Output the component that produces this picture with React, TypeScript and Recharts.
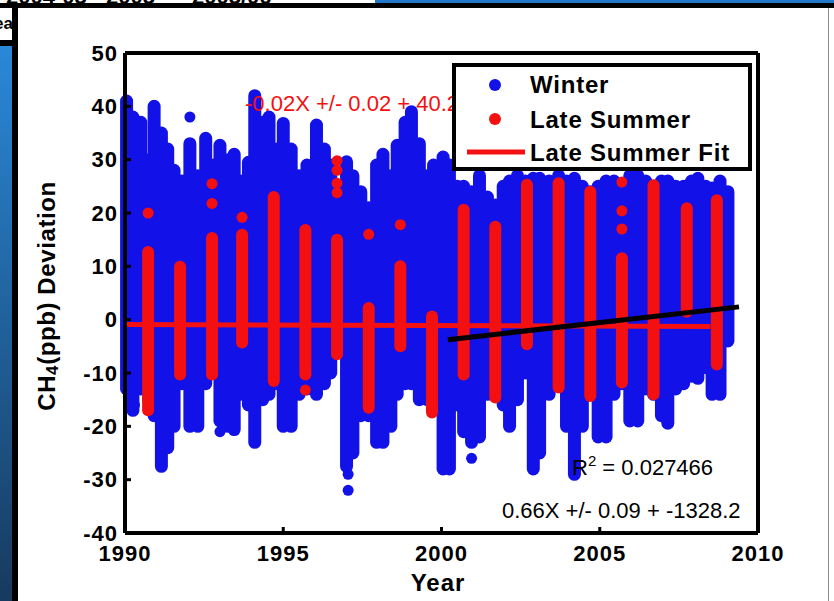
import { ComposedChart, Line, Scatter, XAxis, YAxis } from 'recharts'

// winter (blue) columns of points: year, lowest and highest deviation
const winterYear = [
  1990.05, 1990.25, 1990.5, 1990.75, 1990.92, 1991.15, 1991.35, 1991.55, 1991.8,
  1992.05, 1992.3, 1992.55, 1992.8, 1993.0, 1993.25, 1993.45, 1993.65, 1993.9,
  1994.1, 1994.35, 1994.55, 1994.8, 1995.0, 1995.25, 1995.5, 1995.75, 1996.05,
  1996.3, 1996.5, 1996.75, 1997.0, 1997.2, 1997.45, 1997.7, 1997.95, 1998.15,
  1998.4, 1998.6, 1998.85, 1999.05, 1999.3, 1999.55, 1999.75, 2000.05, 2000.25,
  2000.5, 2000.7, 2000.95, 2001.2, 2001.45, 2001.7, 2001.95, 2002.15, 2002.4,
  2002.65, 2002.9, 2003.1, 2003.4, 2003.7, 2003.95, 2004.2, 2004.45, 2004.7,
  2004.95, 2005.2, 2005.45, 2005.7, 2005.95, 2006.2, 2006.45, 2006.7, 2006.95,
  2007.15, 2007.4, 2007.65, 2007.9, 2008.1, 2008.35, 2008.55, 2008.8, 2009.05,
]
const winterLow = [
  -13, -17, -13, -15, -18, -27.5, -24, -20, -12,
  -20, -20, -12, -10, -19, -20, -20.6, -14, -16,
  -23, -15, -14, -12, -20, -20, -14, -13, -14,
  -12, -10, -6, -27.5, -25, -18, -18, -23, -23,
  -20, -14, -12, -12, -15, -15, -16, -28, -28,
  -16, -21, -23, -22, -14, -12, -16, -20, -15,
  -10, -28, -25, -14, -12, -20, -29, -20, -14,
  -22, -22, -14, -12, -19, -19, -13, -14, -18,
  -19.4, -13, -12, -10.6, -11, -9, -14, -14, -4,
]
const winterHigh = [
  41, 38, 37, 30, 40, 35, 32, 28, 26,
  33, 27, 34, 29, 32.7, 30, 31, 26, 29.5,
  42, 37, 38, 32, 36.8, 32, 27, 29, 36.5,
  32, 29, 24, 29.6, 27, 24, 21, 29, 31,
  27, 32.7, 37, 39, 33, 27, 29, 30.5, 29,
  25, 25, 24, 27, 23, 21.5, 25, 26, 27,
  26, 26.5, 26.5, 26, 27, 26, 26.5, 25, 24,
  25, 26, 26, 25, 27, 27, 26, 25, 26,
  26, 25, 25, 26, 26.5, 25, 24.7, 26, 24,
]
// isolated winter points
const winterDotYear = [1992.05, 1993.0, 1997.05, 1997.05, 2000.95, 1990.3]
const winterDotValue = [38, -21, -29, -32, -26, -16]

// late summer (red) columns
const summerYear = [
  1990.73, 1991.74, 1992.75, 1993.7, 1994.7, 1995.7, 1996.7, 1997.7, 1998.7, 1999.7,
  2000.7, 2001.7, 2002.7, 2003.7, 2004.7, 2005.7, 2006.7, 2007.75, 2008.7,
]
const summerLow = [
  -17, -10.3, -10.3, -4.3, -11.5, -10.3, -6.5, -16.5, -5, -17.4,
  -10.3, -14.6, -4.6, -12.7, -14.3, -11.8, -14, 1.5, -8.4,
]
const summerHigh = [
  12.7, 9.9, 15.3, 15.9, 23, 16.8, 15, 2.2, 10, 0.6,
  20.6, 17.4, 25.3, 25.6, 24, 11.5, 25.2, 20.9, 22.4,
]
// isolated late summer points
const summerDotYear = [
  1990.73, 1992.75, 1992.75, 1993.7, 1995.7, 1996.7, 1996.7, 1996.7, 1996.7,
  1997.7, 1998.7, 2005.7, 2005.7, 2005.7,
]
const summerDotValue = [20, 25.5, 21.8, 19.2, -13.2, 29.8, 28, 25.6, 23.8, 16, 17.8, 25.8, 20.4, 17]

// fits
const summerFitYear = [1990, 2008.5]
const summerFitValue = [-0.9, -1.3]
const trendYear = [2000.2, 2009.4]
const trendValue = [-3.75, 2.4]

const yearTicks = [1990, 1995, 2000, 2005, 2010]
const devTicks = [-40, -30, -20, -10, 0, 10, 20, 30, 40, 50]

const BLUE = '#1212e8'
const RED = '#f41010'
const FONT = '"Liberation Sans", Arial, sans-serif'

const winterCols = winterYear.map((x, i) => [
  { x, y: winterLow[i] },
  { x, y: winterHigh[i] },
])
const summerCols = summerYear.map((x, i) => [
  { x, y: summerLow[i] },
  { x, y: summerHigh[i] },
])
const winterDots = winterDotYear.map((x, i) => ({ x, y: winterDotValue[i] }))
const summerDots = summerDotYear.map((x, i) => ({ x, y: summerDotValue[i] }))
const summerFit = summerFitYear.map((x, i) => ({ x, y: summerFitValue[i] }))
const trend = trendYear.map((x, i) => ({ x, y: trendValue[i] }))

const tickStyle = { fill: '#000', fontSize: 22, fontWeight: 'bold', fontFamily: FONT, letterSpacing: 1 }
const axisLine = { stroke: '#000', strokeWidth: 4 }
const tickLine = { stroke: '#000', strokeWidth: 3 }

function dot(color: string) {
  return (p: any) => <circle cx={p.cx} cy={p.cy} r={5.5} fill={color} />
}

export default function App() {
  return (
    <div style={{ position: 'absolute', left: 0, top: 0, width: 834, height: 601, background: '#fff', overflow: 'hidden', fontFamily: FONT }}>
      {/* bits of the slide behind the figure */}
      <div style={{ position: 'absolute', left: 0, top: -16, width: 375, height: 19, overflow: 'hidden', fontWeight: 'bold', fontSize: 22 }}>
        <span style={{ position: 'absolute', left: 6, top: 0 }}>2004-05</span>
        <span style={{ position: 'absolute', left: 106, top: 0 }}>2005</span>
        <span style={{ position: 'absolute', left: 192, top: 0 }}>2005/06</span>
      </div>
      <div style={{ position: 'absolute', left: 375, top: 0, width: 459, height: 3, background: '#2478c8' }} />
      <div style={{ position: 'absolute', left: 0, top: 3, width: 834, height: 5, background: '#000' }} />
      <div style={{ position: 'absolute', left: 0, top: 8, width: 12, height: 32, overflow: 'hidden', background: '#fff' }}>
        <span style={{ position: 'absolute', right: -1, top: 6, fontWeight: 'bold', fontSize: 17 }}>Yea</span>
      </div>
      <div style={{ position: 'absolute', left: 0, top: 40, width: 12, height: 6, background: '#000' }} />
      <div style={{ position: 'absolute', left: 0, top: 46, width: 12, height: 555, background: 'linear-gradient(#2a88d8, #173a5e)' }} />
      <div style={{ position: 'absolute', left: 12, top: 3, width: 6, height: 598, background: '#000' }} />
      <div style={{ position: 'absolute', left: 828, top: 8, width: 1, height: 593, background: '#8a8a8a' }} />

      <div style={{ position: 'absolute', left: 0, top: 0 }}>
        <ComposedChart width={834} height={601} margin={{ top: 51, right: 74, bottom: 38, left: 65 }}>
          <XAxis
            dataKey="x"
            type="number"
            domain={[1990, 2010]}
            ticks={yearTicks}
            interval={0}
            tick={tickStyle}
            tickSize={-6}
            tickMargin={18}
            axisLine={axisLine}
            tickLine={tickLine}
            height={30}
          />
          <XAxis
            xAxisId="top"
            orientation="top"
            type="number"
            domain={[1990, 2010]}
            ticks={yearTicks}
            tick={false}
            tickSize={-6}
            axisLine={axisLine}
            tickLine={tickLine}
            height={2}
          />
          <YAxis
            type="number"
            domain={[-40, 50]}
            ticks={devTicks}
            interval={0}
            tick={tickStyle}
            tickSize={-6}
            tickMargin={13}
            axisLine={axisLine}
            tickLine={tickLine}
            width={60}
          />
          <YAxis
            yAxisId="right"
            orientation="right"
            type="number"
            domain={[-40, 50]}
            ticks={devTicks}
            tick={false}
            tickSize={-6}
            axisLine={axisLine}
            tickLine={tickLine}
            width={2}
          />
          {winterCols.map((d, i) => (
            <Line
              key={'w' + i}
              data={d}
              dataKey="y"
              stroke={BLUE}
              strokeWidth={13}
              strokeLinecap="round"
              dot={false}
              activeDot={false}
              isAnimationActive={false}
            />
          ))}
          <Scatter data={winterDots} dataKey="y" shape={dot(BLUE)} isAnimationActive={false} />
          <Line
            data={summerFit}
            dataKey="y"
            stroke={RED}
            strokeWidth={5}
            dot={false}
            activeDot={false}
            isAnimationActive={false}
          />
          {summerCols.map((d, i) => (
            <Line
              key={'s' + i}
              data={d}
              dataKey="y"
              stroke={RED}
              strokeWidth={12}
              strokeLinecap="round"
              dot={false}
              activeDot={false}
              isAnimationActive={false}
            />
          ))}
          <Scatter data={summerDots} dataKey="y" shape={dot(RED)} isAnimationActive={false} />
          <Line
            data={trend}
            dataKey="y"
            stroke="#000"
            strokeWidth={5}
            dot={false}
            activeDot={false}
            isAnimationActive={false}
          />
        </ComposedChart>
      </div>

      {/* annotations and legend */}
      <svg width={834} height={601} style={{ position: 'absolute', left: 0, top: 0, pointerEvents: 'none' }} fontFamily={FONT}>
        <text
          x={46}
          y={296}
          transform="rotate(-90 46 296)"
          textAnchor="middle"
          dominantBaseline="central"
          fontSize={24}
          fontWeight="bold"
          letterSpacing={0.6}
        >
          CH<tspan fontSize={17} dy={6}>4</tspan>
          <tspan dy={-6}>(ppb) Deviation</tspan>
        </text>
        <text x={438} y={591} textAnchor="middle" fontSize={24} fontWeight="bold" letterSpacing={1}>
          Year
        </text>
        <text x={245} y={111} fontSize={22} fill={RED}>
          -0.02X +/- 0.02 + 40.2
        </text>
        <text x={572} y={475} fontSize={22} fill="#000">
          R<tspan fontSize={15} dy={-9}>2</tspan>
          <tspan dy={9}> = 0.027466</tspan>
        </text>
        <text x={502} y={518} fontSize={22} fill="#000">
          0.66X +/- 0.09 + -1328.2
        </text>

        <rect x={454} y={65} width={296} height={104} fill="#fff" stroke="#000" strokeWidth={4} />
        <circle cx={495} cy={85} r={6} fill={BLUE} />
        <circle cx={495} cy={119} r={6} fill={RED} />
        <line x1={467} y1={152} x2={525} y2={152} stroke={RED} strokeWidth={5} />
        <g fontSize={24} fontWeight="bold" letterSpacing={0.8}>
          <text x={530} y={93}>Winter</text>
          <text x={530} y={128}>Late Summer</text>
          <text x={530} y={161}>Late Summer Fit</text>
        </g>
      </svg>
    </div>
  )
}
